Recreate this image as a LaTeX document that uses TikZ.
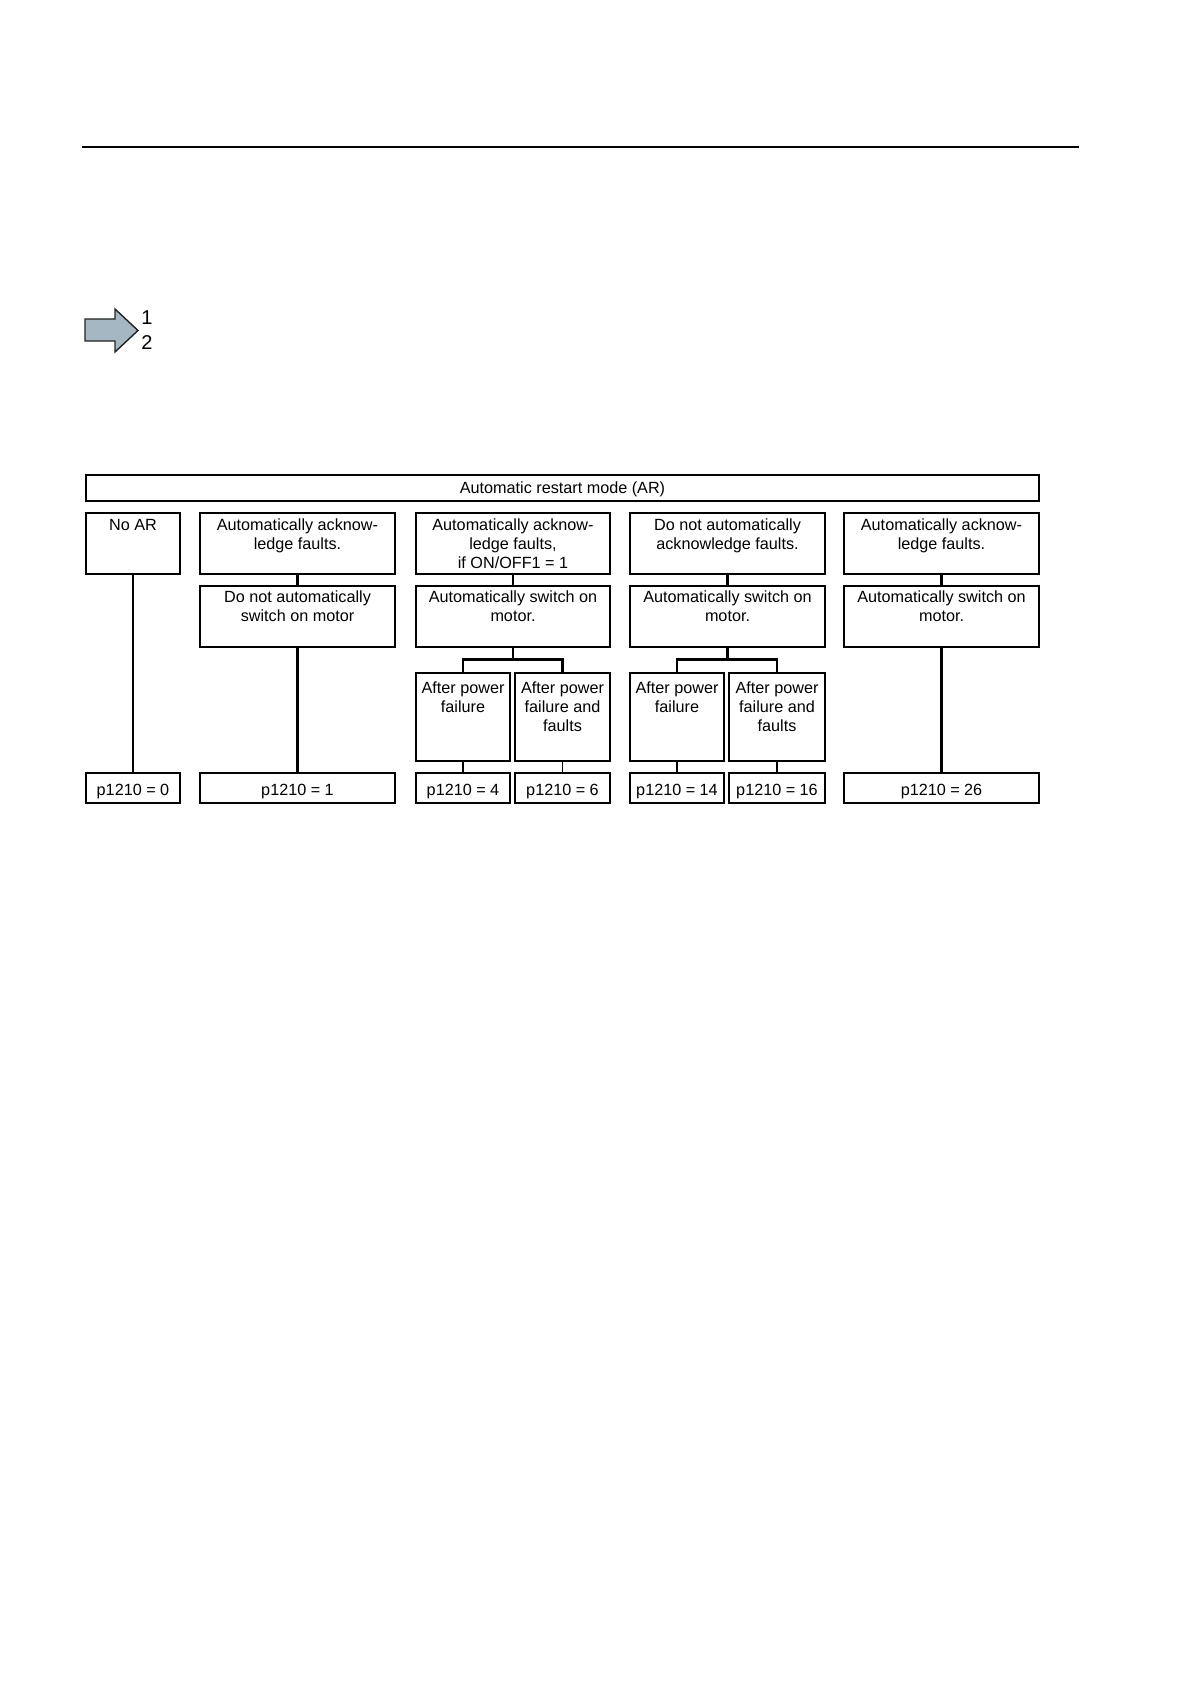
\documentclass[tikz,border=0pt]{standalone}
\usepackage{fontspec}
\setmainfont{Liberation Sans}
\definecolor{arrowfill}{HTML}{A5B7C2}
\definecolor{arrowline}{HTML}{222222}
\begin{document}
\begin{tikzpicture}[x=0.5pt,y=-0.5pt,
  box/.style={draw, line width=0.7pt, rectangle, inner sep=0pt, outer sep=0pt},
  lbl/.style={inner sep=0pt, outer sep=0pt, align=center, anchor=north, font=\fontsize{8.1}{9.7}\selectfont},
  vlbl/.style={inner sep=0pt, outer sep=0pt, anchor=base, font=\fontsize{8.1}{9.7}\selectfont},
  conn/.style={line width=1.1pt},
  thinconn/.style={line width=0.6pt},
  midconn/.style={line width=0.9pt}]
\useasboundingbox (0,0) rectangle (1191,1684);

% top rule
\coordinate (ruleL) at (82,147);
\coordinate (ruleR) at (1079,147);
\draw[line width=0.8pt] (ruleL) -- (ruleR);

% step arrow
\draw[line width=0.7pt, draw=arrowline, fill=arrowfill, line join=miter]
  (85,319) -- (115,319) -- (115,309) -- (138,330.5) -- (115,352) -- (115,341) -- (85,341) -- cycle;
\node[inner sep=0pt, anchor=base west, font=\fontsize{10}{11}\selectfont] (one) at (141,325) {1};
\node[inner sep=0pt, anchor=base west, font=\fontsize{10}{11}\selectfont] (two) at (141,350) {2};

% top box
\node[box, minimum width=476.5pt, minimum height=13pt] (top) at (562.5,488) {};
\node[vlbl] (ttop) at (562.5,493) {Automatic restart mode (AR)};

% row 1
\node[box, minimum width=47pt,   minimum height=30.5pt] (r1c1) at (133,543.5) {};
\node[box, minimum width=97.5pt, minimum height=30.5pt] (r1c2) at (297.5,543.5) {};
\node[box, minimum width=97pt,   minimum height=30.5pt] (r1c3) at (513,543.5) {};
\node[box, minimum width=97.5pt, minimum height=30.5pt] (r1c4) at (727.5,543.5) {};
\node[box, minimum width=97.5pt, minimum height=30.5pt] (r1c5) at (941.5,543.5) {};
\node[lbl] (t1c1) at (133,516) {\rule{0pt}{7pt}No AR};
\node[lbl] (t1c2) at (297.5,516) {\rule{0pt}{7pt}Automatically acknow-\\ledge faults.};
\node[lbl] (t1c3) at (513,516) {\rule{0pt}{7pt}Automatically acknow-\\ledge faults,\\if ON/OFF1 = 1};
\node[lbl] (t1c4) at (727.5,516) {\rule{0pt}{7pt}Do not automatically\\acknowledge faults.};
\node[lbl] (t1c5) at (941.5,516) {\rule{0pt}{7pt}Automatically acknow-\\ledge faults.};

% row 2
\node[box, minimum width=97.5pt, minimum height=30.5pt] (r2c2) at (297.5,616.5) {};
\node[box, minimum width=97pt,   minimum height=30.5pt] (r2c3) at (513,616.5) {};
\node[box, minimum width=97.5pt, minimum height=30.5pt] (r2c4) at (727.5,616.5) {};
\node[box, minimum width=97.5pt, minimum height=30.5pt] (r2c5) at (941.5,616.5) {};
\node[lbl] (t2c2) at (297.5,588) {\rule{0pt}{7pt}Do not automatically\\switch on motor};
\node[lbl] (t2c3) at (513,588) {\rule{0pt}{7pt}Automatically switch on\\motor.};
\node[lbl] (t2c4) at (727.5,588) {\rule{0pt}{7pt}Automatically switch on\\motor.};
\node[lbl] (t2c5) at (941.5,588) {\rule{0pt}{7pt}Automatically switch on\\motor.};

% sub boxes
\node[box, minimum width=47pt,   minimum height=44pt] (s3a) at (463,717) {};
\node[box, minimum width=47.5pt, minimum height=44pt] (s3b) at (562.5,717) {};
\node[box, minimum width=47pt,   minimum height=44pt] (s4a) at (677,717) {};
\node[box, minimum width=48pt,   minimum height=44pt] (s4b) at (777,717) {};
\node[lbl] (ts3a) at (463,679) {\rule{0pt}{7pt}After power\\failure};
\node[lbl] (ts3b) at (562.5,679) {\rule{0pt}{7pt}After power\\failure and\\faults};
\node[lbl] (ts4a) at (677,679) {\rule{0pt}{7pt}After power\\failure};
\node[lbl] (ts4b) at (777,679) {\rule{0pt}{7pt}After power\\failure and\\faults};

% bottom boxes
\node[box, minimum width=47pt,   minimum height=15pt] (b1)  at (133,788) {};
\node[box, minimum width=97.5pt, minimum height=15pt] (b2)  at (297.5,788) {};
\node[box, minimum width=47pt,   minimum height=15pt] (b3a) at (463,788) {};
\node[box, minimum width=47.5pt, minimum height=15pt] (b3b) at (562.5,788) {};
\node[box, minimum width=47pt,   minimum height=15pt] (b4a) at (677,788) {};
\node[box, minimum width=48pt,   minimum height=15pt] (b4b) at (777,788) {};
\node[box, minimum width=97.5pt, minimum height=15pt] (b5)  at (941.5,788) {};
\node[vlbl] (tb1)  at (133,795)   {p1210 = 0};
\node[vlbl] (tb2)  at (297.5,795) {p1210 = 1};
\node[vlbl] (tb3a) at (463,795)   {p1210 = 4};
\node[vlbl] (tb3b) at (562.5,795) {p1210 = 6};
\node[vlbl] (tb4a) at (677,795)   {p1210 = 14};
\node[vlbl] (tb4b) at (777,795)   {p1210 = 16};
\node[vlbl] (tb5)  at (941.5,795) {p1210 = 26};

% connectors
\draw[midconn] (r1c1.south) -- (b1.north);
\draw[conn] (r1c2.south) -- (r2c2.north);
\draw[conn] (r2c2.south) -- (b2.north);
\draw[conn] (r1c3.south) -- (r2c3.north);
\draw[conn] (r1c4.south) -- (r2c4.north);
\draw[conn] (r1c5.south) -- (r2c5.north);
\draw[conn] (r2c5.south) -- (b5.north);

\coordinate (j3) at (513,659.5);
\coordinate (j4) at (727.5,659.5);
\draw[conn] (r2c3.south) -- (j3);
\draw[conn, line join=miter] (s3a.north) |- (j3) -| (s3b.north);
\draw[conn] (r2c4.south) -- (j4);
\draw[conn, line join=miter] (s4a.north) |- (j4) -| (s4b.north);

\draw[conn] (s3a.south) -- (b3a.north);
\draw[thinconn] (s3b.south) -- (b3b.north);
\draw[conn] (s4a.south) -- (b4a.north);
\draw[thinconn] (s4b.south) -- (b4b.north);
\end{tikzpicture}
\end{document}
